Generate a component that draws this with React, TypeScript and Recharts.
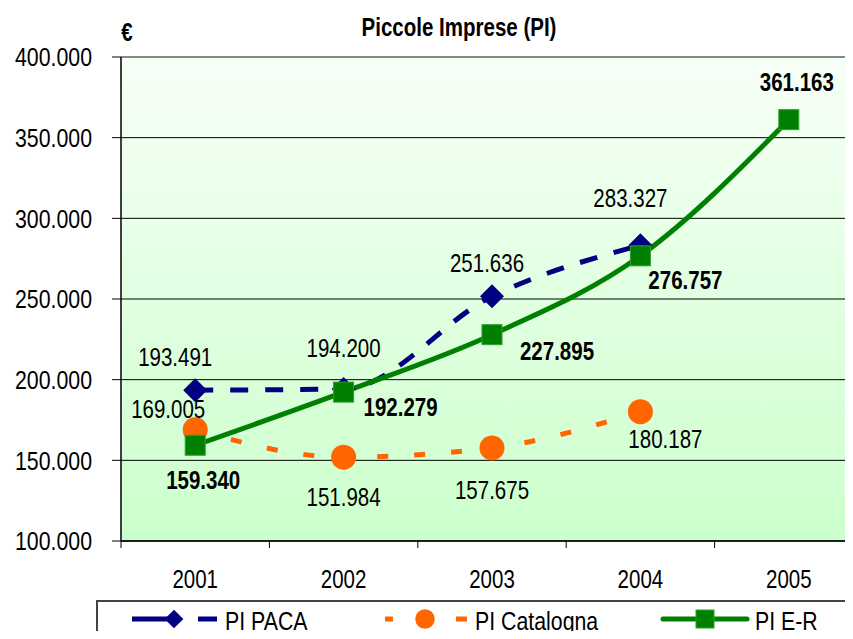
import React from 'react';
import {
  CartesianGrid,
  LabelList,
  Line,
  LineChart,
  ReferenceLine,
  XAxis,
  YAxis,
} from 'recharts';

const years = ['2001', '2002', '2003', '2004', '2005'];
const paca = [193491, 194200, 251636, 283327, null];
const catalogna = [169005, 151984, 157675, 180187, null];
const emiliaRomagna = [159340, 192279, 227895, 276757, 361163];
const yTicks = [100000, 150000, 200000, 250000, 300000, 350000, 400000];

// label offsets (dx, dy) from each point, as placed in the original
const pacaOffsets = [[-20, -33], [0, -41], [-5, -33], [-10, -47], [0, 0]];
const catalognaOffsets = [[-27, -20], [0, 40], [0, 42], [25, 28], [0, 0]];
const erOffsets = [[8, 35], [57, 15], [65, 17], [45, 24], [8, -37]];

// no Arial Narrow here: Liberation Sans squeezed to 82% looks the same
const FONT = '"Liberation Sans", Arial, sans-serif';
const NARROW = 0.82;

const fmt = (v: number) => String(v).replace(/\B(?=(\d{3})+(?!\d))/g, '.');

const rows = years.map((year, i) => ({
  x: i + 0.5,
  year,
  paca: paca[i],
  catalogna: catalogna[i],
  er: emiliaRomagna[i],
}));

const xTicks = Array.from({ length: years.length * 2 + 1 }, (_, i) => i / 2);

type Shape = 'diamond' | 'circle' | 'square';

const series: {
  key: 'paca' | 'catalogna' | 'er';
  name: string;
  color: string;
  dash?: string;
  shape: Shape;
  bold: boolean;
  offsets: number[][];
}[] = [
  { key: 'paca', name: 'PI PACA', color: '#000080', dash: '18 17', shape: 'diamond', bold: false, offsets: pacaOffsets },
  { key: 'catalogna', name: 'PI Catalogna', color: '#FF6600', dash: '11 26', shape: 'circle', bold: false, offsets: catalognaOffsets },
  { key: 'er', name: 'PI E-R', color: '#008000', shape: 'square', bold: true, offsets: erOffsets },
];

function NText({
  x,
  y,
  size,
  anchor = 'middle',
  bold = false,
  children,
}: {
  x: number;
  y: number;
  size: number;
  anchor?: 'start' | 'middle' | 'end';
  bold?: boolean;
  children: React.ReactNode;
}) {
  return (
    <text
      transform={`translate(${x},${y}) scale(${NARROW},1)`}
      textAnchor={anchor}
      dominantBaseline="central"
      fontSize={size}
      fontFamily={FONT}
      fontWeight={bold ? 'bold' : 'normal'}
      fill="#000"
    >
      {children}
    </text>
  );
}

function Marker({ shape, cx, cy, color, size = 1 }: { shape: Shape; cx: number; cy: number; color: string; size?: number }) {
  if (shape === 'diamond') {
    const s = 12 * size;
    return <polygon points={`${cx},${cy - s} ${cx + s},${cy} ${cx},${cy + s} ${cx - s},${cy}`} fill={color} />;
  }
  if (shape === 'circle') return <circle cx={cx} cy={cy} r={12.5 * size} fill={color} />;
  const h = 10 * size;
  return <rect x={cx - h} y={cy - h} width={2 * h} height={2 * h} fill={color} stroke="#2f9f2f" strokeWidth={1} />;
}

function XTick(props: any) {
  const { x, y, payload } = props;
  const v = payload.value as number;
  if (Number.isInteger(v)) {
    return <line x1={x} x2={x} y1={y} y2={y + 7} stroke="#000" strokeWidth={1} />;
  }
  return (
    <NText x={x} y={y + 38} size={25}>
      {years[Math.floor(v)]}
    </NText>
  );
}

function YTick(props: any) {
  const { x, y, payload } = props;
  return (
    <NText x={x} y={y} size={26} anchor="end">
      {fmt(payload.value)}
    </NText>
  );
}

function Overlay() {
  const [pacaS, catS, erS] = series;
  const cy = 619;
  return (
    <svg width={853} height={639} style={{ position: 'absolute', left: 0, top: 0, pointerEvents: 'none' }}>
      <NText x={459} y={27} size={25} bold>
        Piccole Imprese (PI)
      </NText>
      <NText x={127} y={32} size={25} bold>
        €
      </NText>
      <rect x={97} y={601} width={753} height={60} fill="#fff" stroke="#444" strokeWidth={2} />
      <line x1={132} x2={170} y1={cy} y2={cy} stroke={pacaS.color} strokeWidth={5} />
      <Marker shape="diamond" cx={174} cy={cy} color={pacaS.color} size={0.78} />
      <line x1={198} x2={217} y1={cy} y2={cy} stroke={pacaS.color} strokeWidth={5} />
      <NText x={225} y={621} size={26} anchor="start">{pacaS.name}</NText>

      <line x1={385} x2={393} y1={cy} y2={cy} stroke={catS.color} strokeWidth={5} />
      <Marker shape="circle" cx={425} cy={cy} color={catS.color} size={0.78} />
      <line x1={456} x2={467} y1={cy} y2={cy} stroke={catS.color} strokeWidth={5} />
      <NText x={475} y={621} size={26} anchor="start">{catS.name}</NText>

      <line x1={663} x2={747} y1={cy} y2={cy} stroke={erS.color} strokeWidth={5} strokeLinecap="round" />
      <Marker shape="square" cx={705} cy={cy} color={erS.color} size={0.9} />
      <NText x={755} y={621} size={26} anchor="start">{erS.name}</NText>
    </svg>
  );
}

export default function App() {
  return (
    <div style={{ position: 'relative', width: 853, height: 639, overflow: 'hidden', margin: -8, background: '#fff' }}>
      <LineChart
        width={866}
        height={639}
        data={rows}
        margin={{ top: 57, right: 3, left: 0, bottom: 48 }}
        style={{ position: 'absolute', left: 0, top: 0 }}
      >
        <defs>
          <linearGradient id="bg" x1="0" y1="0" x2="0" y2="1">
            <stop offset="0%" stopColor="#F7FFF7" />
            <stop offset="100%" stopColor="#CCFFCC" />
          </linearGradient>
        </defs>
        <CartesianGrid vertical={false} stroke="#000" strokeWidth={1} fill="url(#bg)" fillOpacity={1} />
        <XAxis
          dataKey="x"
          type="number"
          domain={[0, years.length]}
          ticks={xTicks}
          interval={0}
          tickLine={false}
          tickSize={0}
          tickMargin={0}
          tick={<XTick />}
          axisLine={{ stroke: '#000', strokeWidth: 1.5 }}
          height={50}
        />
        <YAxis
          domain={[100000, 400000]}
          ticks={yTicks}
          interval={0}
          width={121}
          tickSize={9}
          tickMargin={20}
          tick={<YTick />}
          tickLine={{ stroke: '#000' }}
          axisLine={{ stroke: '#000', strokeWidth: 1.5 }}
        />
        <ReferenceLine y={400000} stroke="#888" strokeWidth={2} />
        {series.map((s) => (
          <Line
            key={s.key}
            dataKey={s.key}
            name={s.name}
            type="monotone"
            stroke={s.color}
            strokeWidth={5}
            strokeDasharray={s.dash}
            connectNulls={false}
            isAnimationActive={false}
            dot={(p: any) =>
              p.value == null ? <g key={p.index} /> : <Marker key={p.index} shape={s.shape} cx={p.cx} cy={p.cy} color={s.color} />
            }
            activeDot={false}
          >
            <LabelList
              dataKey={s.key}
              content={(p: any) => {
                if (p.value == null) return null;
                const [dx, dy] = s.offsets[p.index] || [0, 0];
                return (
                  <NText x={p.x + dx} y={p.y + dy} size={25} bold={s.bold}>
                    {fmt(p.value)}
                  </NText>
                );
              }}
            />
          </Line>
        ))}
      </LineChart>
      <Overlay />
    </div>
  );
}
